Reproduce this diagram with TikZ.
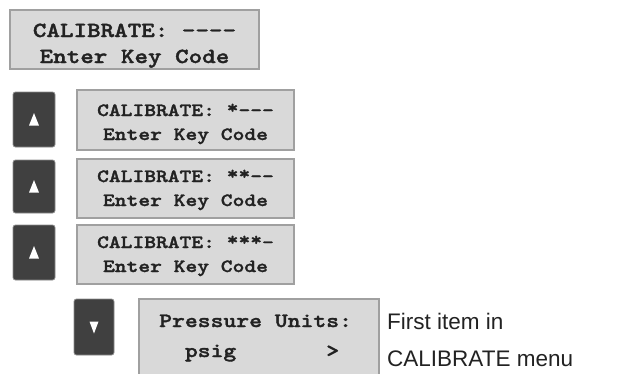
\documentclass[tikz,border=0pt]{standalone}
\usepackage{fontspec}
\setmainfont{Liberation Sans}
\newfontfamily\lcdfont{lmmonolt10-bold.otf}[FakeStretch=1.2, FakeBold=1.6]
\usetikzlibrary{calc}
\newcommand\hiast{\raisebox{2.5pt}{*}}
\definecolor{lcdfill}{HTML}{D9D9D9}
\definecolor{lcdedge}{HTML}{4A4A4A}
\definecolor{lcdbevel}{HTML}{A0A0A0}
\definecolor{keyfill}{HTML}{404040}
\definecolor{keyshade}{HTML}{8A8A8A}
\definecolor{txt}{HTML}{222222}
\tikzset{
  lcd/.style={draw=lcdedge, line width=0.7pt, double=lcdbevel, double distance=1.5pt,
    fill=lcdfill, inner sep=0pt},
  lcdtxt/.style={inner sep=0pt, text=txt},
  bigtxt/.style={font=\lcdfont\fontsize{21.5}{25}\selectfont},
  midtxt/.style={font=\lcdfont\fontsize{18.7}{24}\selectfont},
  keybtn/.style={fill=keyfill, draw=keyshade, line width=0.8pt, rounded corners=2.5pt, inner sep=0pt},
  keymark/.style={fill=white},
  note/.style={inner sep=0pt, text=txt, font=\fontsize{22.5}{27}\selectfont, anchor=base west}
}
\begin{document}
\begin{tikzpicture}[x=1pt,y=-1pt]
\useasboundingbox (0,0) rectangle (622,373);
% LCD boxes
\node[lcd, minimum width=249, minimum height=59] (b1) at (134.5,39.5) {};
\node[lcd, minimum width=217, minimum height=60] (b2) at (185.5,120) {};
\node[lcd, minimum width=217, minimum height=59] (b3) at (185.5,188.5) {};
\node[lcd, minimum width=217, minimum height=59] (b4) at (185.5,254.5) {};
\node[lcd, minimum width=240, minimum height=82] (b5) at (259,340) {};
% texts
\begin{scope}[every node/.style={lcdtxt, anchor=base}]
\node[bigtxt] (t1a) at (134.5,37) {CALIBRATE: ----};
\node[bigtxt] (t1b) at (134.5,63) {Enter Key Code};
\node[midtxt] (t2a) at (185.5,116) {CALIBRATE: \hiast---};
\node[midtxt] (t2b) at (185.5,140) {Enter Key Code};
\node[midtxt] (t3a) at (185.5,182) {CALIBRATE: \hiast\hiast--};
\node[midtxt] (t3b) at (185.5,206) {Enter Key Code};
\node[midtxt] (t4a) at (185.5,248) {CALIBRATE: \hiast\hiast\hiast-};
\node[midtxt] (t4b) at (185.5,272) {Enter Key Code};
\node[font=\lcdfont\fontsize{20.4}{30}\selectfont, anchor=base west] (t5a) at (159,327) {Pressure Units:};
\node[font=\lcdfont\fontsize{20.4}{30}\selectfont, anchor=base west] (t5b) at (159,357) {\hphantom{xx}psig\hphantom{xxxxxxx}>};
\end{scope}
% keys
\node[keybtn, minimum width=42, minimum height=55] (k1) at (34,119.5) {};
\node[keybtn, minimum width=42, minimum height=53] (k2) at (34,186.5) {};
\node[keybtn, minimum width=42, minimum height=55] (k3) at (34,252.5) {};
\node[keybtn, minimum width=40, minimum height=56] (k4) at (94,327) {};
\foreach \k in {k1,k2,k3}{
  \fill[keymark] ($(\k.center)+(0,-6.5)$) -- ($(\k.center)+(5,6)$) -- ($(\k.center)+(-5,6)$) -- cycle;
}
\fill[keymark] ($(k4.center)+(0,6.5)$) -- ($(k4.center)+(4.5,-5.5)$) -- ($(k4.center)+(-4.5,-5.5)$) -- cycle;
% note
\node[note] (n1) at (387,329) {First item in};
\node[note] (n2) at (387,366) {CALIBRATE menu};
\end{tikzpicture}
\end{document}
